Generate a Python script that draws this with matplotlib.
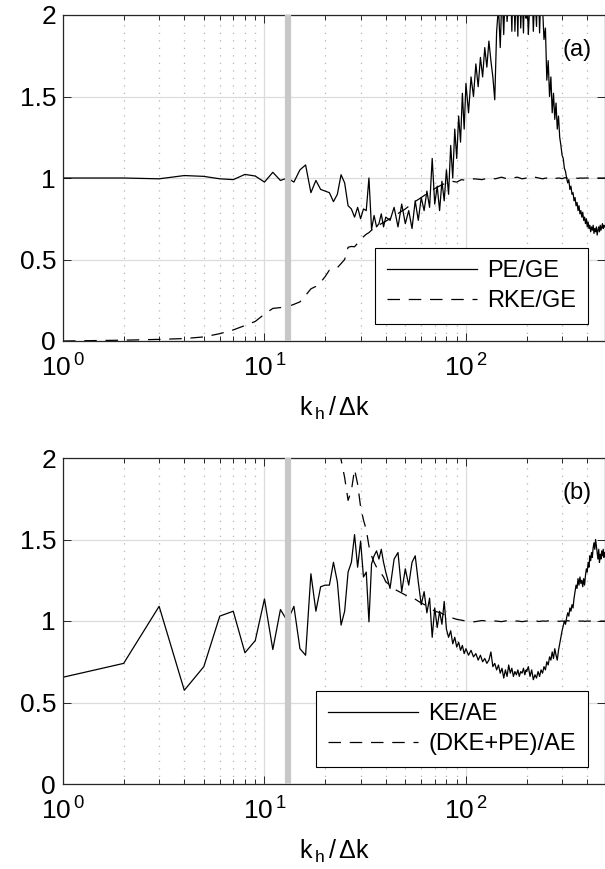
import matplotlib
matplotlib.use("Agg")
import matplotlib.pyplot as plt
from matplotlib.ticker import LogLocator, NullFormatter

# --- datos ---------------------------------------------------------------
# malla de numeros de onda para las curvas continuas
k_sol = (list(range(1, 41)) + list(range(42, 100, 2))
         + list(range(100, 200, 3)) + list(range(200, 489, 4)))
# malla mas gruesa para las curvas discontinuas
k_dash_a = list(range(1, 41)) + list(range(45, 100, 5)) + list(range(100, 491, 10))
k_dash_b = list(range(22, 41)) + list(range(45, 100, 5)) + list(range(100, 491, 10))

pe_ge = [
    1.000, 1.000, 0.995, 1.015, 1.010, 0.995, 0.990, 1.022, 1.012, 0.975,
    1.035, 0.985, 1.000, 0.975, 1.050, 1.080, 0.910, 0.985, 0.930, 0.920,
    0.910, 0.855, 0.900, 1.020, 0.970, 0.830, 0.810, 0.760, 0.820, 0.750,
    0.810, 0.800, 1.000, 0.685, 0.770, 0.700, 0.720, 0.780, 0.700, 0.760,
    0.74, 0.82, 0.70, 0.84, 0.72, 0.80, 0.69, 0.86, 0.74, 0.88,
    0.80, 0.92, 0.82, 1.12, 0.84, 0.95, 0.80, 0.98, 0.86, 1.05,
    0.90, 1.20, 1.00, 1.30, 1.12, 1.38, 1.22, 1.52, 1.30,
    1.58, 1.40, 1.62, 1.50, 1.70, 1.56, 1.74, 1.62, 1.80, 1.68,
    1.84, 1.72, 1.62, 1.48, 1.90, 2.05, 1.80, 2.15, 1.88, 2.20,
    1.96, 2.10, 2.25, 1.90, 2.30, 1.90, 2.20, 1.87, 2.35, 1.92,
    2.15, 1.89, 2.30, 1.98,
    2.20, 1.88, 2.10, 2.25, 1.90, 2.15, 1.93, 2.30, 1.89, 2.20,
    2.05, 1.85, 1.92, 1.60, 1.72, 1.50, 1.62, 1.40, 1.52, 1.36,
    1.46, 1.30, 1.38, 1.25, 1.20, 1.14, 1.12, 1.06, 1.04, 1.00,
    0.97, 0.99, 0.93, 0.95, 0.90, 0.91, 0.86, 0.88, 0.83, 0.85,
    0.80, 0.83, 0.78, 0.80, 0.76, 0.79, 0.74, 0.76, 0.72, 0.75,
    0.70, 0.73, 0.69, 0.71, 0.67, 0.70, 0.68, 0.71, 0.66, 0.69,
    0.67, 0.70, 0.65, 0.68, 0.70, 0.67, 0.71, 0.68, 0.70, 0.72,
    0.69, 0.71, 0.70,
]

rke_ge = [
    0.000, 0.005, 0.010, 0.015, 0.025, 0.045, 0.068, 0.095, 0.120, 0.165,
    0.200, 0.205, 0.210, 0.225, 0.240, 0.280, 0.320, 0.335, 0.360, 0.395,
    0.435, 0.445, 0.450, 0.475, 0.500, 0.575, 0.580, 0.578, 0.600, 0.625,
    0.640, 0.655, 0.665, 0.680, 0.690, 0.700, 0.710, 0.720, 0.728, 0.735,
    0.775, 0.810, 0.850, 0.880, 0.910, 0.935, 0.955, 0.970, 0.980, 0.975,
    0.990,
    0.985, 0.995, 0.990, 1.000, 0.995, 1.005, 0.995, 1.000, 1.005, 0.995,
    1.000, 0.995, 1.005, 1.000, 0.995, 1.000, 0.995, 1.003, 0.998, 1.000,
    0.996, 1.002, 0.998, 1.000, 0.996, 1.000, 0.998, 1.000, 0.999, 1.000,
    1.000, 0.999, 1.000, 1.000, 0.999, 1.000, 1.000, 1.000, 1.000, 1.000,
]

ke_ae = [
    0.655, 0.740, 1.090, 0.575, 0.720, 1.030, 1.060, 0.805, 0.880, 1.135,
    0.825, 1.070, 1.000, 1.090, 0.830, 0.790, 1.290, 1.060, 1.210, 1.220,
    1.220, 1.360, 1.240, 0.975, 1.060, 1.300, 1.360, 1.530, 1.330, 1.490,
    1.270, 1.300, 0.995, 1.350, 1.400, 1.430, 1.380, 1.440, 1.360, 1.300,
    1.20, 1.38, 1.42, 1.18, 1.32, 1.22, 1.36, 1.40, 1.24, 1.10,
    1.18, 1.05, 1.14, 0.90, 1.08, 0.96, 1.06, 0.98, 1.12, 0.95,
    0.90, 0.94, 0.86, 0.90, 0.84, 0.87, 0.82, 0.85, 0.80,
    0.83, 0.79, 0.82, 0.78, 0.80, 0.76, 0.79, 0.75, 0.77, 0.74,
    0.76, 0.81, 0.72, 0.74, 0.70, 0.73, 0.68, 0.71, 0.65, 0.70,
    0.66, 0.73, 0.68, 0.71, 0.66, 0.69, 0.67, 0.70, 0.66, 0.69,
    0.68, 0.71, 0.67, 0.70,
    0.69, 0.72, 0.66, 0.70, 0.64, 0.67, 0.65, 0.69, 0.66, 0.70,
    0.68, 0.72, 0.70, 0.75, 0.73, 0.78, 0.76, 0.81, 0.77, 0.83,
    0.79, 0.76, 0.82, 0.86, 0.90, 0.94, 0.97, 1.00, 0.98, 1.02,
    1.05, 1.03, 1.08, 1.06, 1.10, 1.08, 1.14, 1.18, 1.22, 1.20,
    1.26, 1.22, 1.27, 1.23, 1.25, 1.21, 1.26, 1.22, 1.28, 1.32,
    1.30, 1.36, 1.33, 1.40, 1.37, 1.42, 1.39, 1.45, 1.48, 1.44,
    1.50, 1.46, 1.42, 1.38, 1.44, 1.36, 1.41, 1.38, 1.43, 1.40,
    1.44, 1.39, 1.42,
]

dkepe_ae = [
    2.30, 2.10, 1.99, 1.88, 1.74, 1.80, 1.93, 1.84, 1.70, 1.62,
    1.56, 1.46, 1.40, 1.36, 1.33, 1.31, 1.29, 1.27, 1.24,
    1.19, 1.16, 1.14, 1.11, 1.09, 1.06, 1.05, 1.03, 1.02, 1.01,
    1.005,
    1.000, 0.995, 1.003, 0.998, 1.000, 0.996, 1.002, 0.998, 1.000, 0.996,
    1.000, 0.998, 1.002, 0.997, 1.000, 0.999, 1.002, 0.997, 1.000, 0.998,
    1.000, 0.997, 1.002, 0.999, 1.000, 0.998, 1.001, 0.999, 1.000, 0.998,
    1.000, 0.999, 1.001, 1.000, 0.999, 1.000, 0.998, 1.000, 0.999, 1.000,
]

k_marca = 13.1          # posicion de la linea vertical gris
y_ticks = [0, 0.5, 1, 1.5, 2]
y_labels = ["0", "0.5", "1", "1.5", "2"]
x_ticks = [1, 10, 100]
x_labels = [r"$\mathregular{10^{\,0}}$", r"$\mathregular{10^{\,1}}$",
            r"$\mathregular{10^{\,2}}$"]

assert len(k_sol) == len(pe_ge) == len(ke_ae)
assert len(k_dash_a) == len(rke_ge)
assert len(k_dash_b) == len(dkepe_ae)

plt.rcParams["font.family"] = ["Liberation Sans", "DejaVu Sans"]
plt.rcParams["mathtext.fontset"] = "custom"
plt.rcParams["mathtext.rm"] = "Liberation Sans"
plt.rcParams["mathtext.it"] = "Liberation Sans:italic"

EJE = "#262626"
DASH = (0, (10, 7))


def preparar_eje(ax, etiqueta):
    """Aplica el estilo comun (tipo MATLAB) a un panel."""
    ax.set_xscale("log")
    ax.set_xlim(1, 490)
    ax.set_ylim(0, 2)
    ax.set_yticks(y_ticks)
    ax.set_yticklabels(y_labels)
    ax.set_xticks(x_ticks)
    ax.set_xticklabels(x_labels)
    ax.xaxis.set_minor_locator(LogLocator(base=10, subs=range(2, 10)))
    ax.xaxis.set_minor_formatter(NullFormatter())

    ax.grid(True, which="major", color="#dcdcdc", linewidth=0.9, linestyle="-")
    ax.grid(True, which="minor", axis="x", color="#b4b4b4", linewidth=0.9,
            linestyle=(0, (1, 5)))
    ax.set_axisbelow(True)

    ax.tick_params(which="both", direction="in", top=True, right=True,
                   colors=EJE, labelcolor="black", width=0.7)
    ax.tick_params(which="major", length=6)
    ax.tick_params(which="minor", length=3.5)
    ax.tick_params(axis="y", labelsize=19, pad=5)
    ax.tick_params(axis="x", labelsize=19, pad=10)
    for lado in ax.spines.values():
        lado.set_color(EJE)
        lado.set_linewidth(0.9)

    ax.set_xlabel(r"$\mathregular{k_{\,h}\,/\,\Delta k}$", fontsize=18, labelpad=9)
    ax.text(0.948, 0.893, etiqueta, transform=ax.transAxes, fontsize=17,
            ha="center", va="center")
    ax.axvline(k_marca, color="#c8c8c8", linewidth=4.5, zorder=5)


def dibujar_leyenda(ax):
    ley = ax.legend(loc="lower right", bbox_to_anchor=(0.9686, 0.052),
                    borderaxespad=0, fontsize=17, handlelength=3.8,
                    handletextpad=0.45, frameon=True, fancybox=False,
                    edgecolor="black", framealpha=1, borderpad=0.5,
                    labelspacing=0.35)
    ley.get_frame().set_linewidth(0.8)
    ley.set_zorder(10)


fig = plt.figure(figsize=(6.05, 8.69), dpi=100)
ax_a = fig.add_axes([63 / 605, 528 / 869, 542 / 605, 326 / 869])
ax_b = fig.add_axes([63 / 605, 85 / 869, 542 / 605, 326 / 869])

# panel (a)
ax_a.plot(k_sol, pe_ge, color="black", linewidth=0.9, label="PE/GE")
ax_a.plot(k_dash_a, rke_ge, color="black", linewidth=0.9, linestyle=DASH,
          label="RKE/GE")
preparar_eje(ax_a, "(a)")
dibujar_leyenda(ax_a)

# panel (b)
ax_b.plot(k_sol, ke_ae, color="black", linewidth=0.9, label="KE/AE")
ax_b.plot(k_dash_b, dkepe_ae, color="black", linewidth=0.9, linestyle=DASH,
          label="(DKE+PE)/AE")
preparar_eje(ax_b, "(b)")
dibujar_leyenda(ax_b)

fig.savefig("out.png", dpi=100)
plt.close(fig)
